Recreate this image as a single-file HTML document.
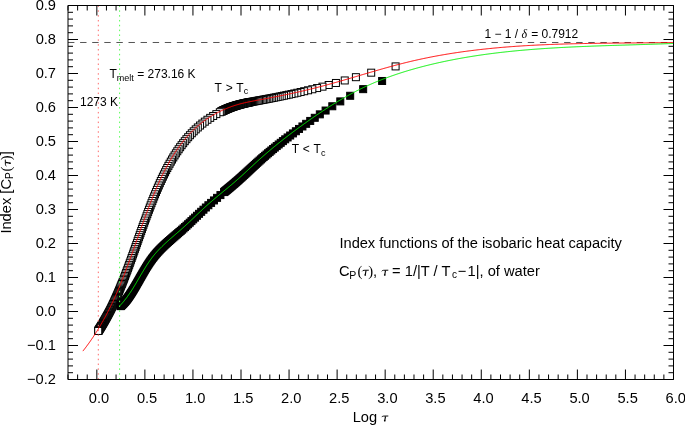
<!DOCTYPE html>
<html><head><meta charset="utf-8"><style>
html,body{margin:0;padding:0;background:#fff;}
svg{display:block;will-change:transform;}
</style></head><body>
<svg width="685" height="425" viewBox="0 0 685 425">
<defs><g id="tau"><path d="M0.5,-4.4 C0.8,-5.1 1.4,-5.4 2.3,-5.4 L7.0,-5.5" fill="none" stroke="#000" stroke-width="0.95"/><path d="M4.2,-5.2 L3.5,-1.0" fill="none" stroke="#000" stroke-width="1.15"/><circle cx="3.45" cy="-0.8" r="0.85" fill="#000"/></g></defs>
<rect width="685" height="425" fill="#fff"/>
<g fill="none" stroke-width="1">
<line x1="68" y1="42.49" x2="673.5" y2="42.49" stroke="#555" stroke-dasharray="6.4 5.7"/>
</g>
<g fill="#fff" stroke="#000" stroke-width="1"><rect x="392.09" y="62.91" width="7" height="7"/><rect x="367.70" y="69.18" width="7" height="7"/><rect x="352.41" y="73.68" width="7" height="7"/><rect x="341.25" y="76.95" width="7" height="7"/><rect x="332.44" y="79.47" width="7" height="7"/><rect x="325.18" y="81.49" width="7" height="7"/><rect x="318.99" y="83.15" width="7" height="7"/><rect x="313.61" y="84.55" width="7" height="7"/><rect x="308.84" y="85.75" width="7" height="7"/><rect x="304.56" y="86.79" width="7" height="7"/><rect x="300.67" y="87.71" width="7" height="7"/><rect x="297.12" y="88.53" width="7" height="7"/><rect x="293.85" y="89.27" width="7" height="7"/><rect x="290.82" y="89.95" width="7" height="7"/><rect x="287.99" y="90.56" width="7" height="7"/><rect x="285.34" y="91.13" width="7" height="7"/><rect x="282.85" y="91.65" width="7" height="7"/><rect x="280.50" y="92.14" width="7" height="7"/><rect x="278.27" y="92.60" width="7" height="7"/><rect x="276.16" y="93.02" width="7" height="7"/><rect x="274.15" y="93.43" width="7" height="7"/><rect x="272.23" y="93.81" width="7" height="7"/><rect x="270.39" y="94.17" width="7" height="7"/><rect x="268.64" y="94.51" width="7" height="7"/><rect x="266.95" y="94.84" width="7" height="7"/><rect x="265.33" y="95.15" width="7" height="7"/><rect x="263.77" y="95.44" width="7" height="7"/><rect x="262.27" y="95.73" width="7" height="7"/><rect x="260.81" y="96.00" width="7" height="7"/><rect x="259.41" y="96.26" width="7" height="7"/><rect x="258.05" y="96.51" width="7" height="7"/><rect x="256.74" y="96.75" width="7" height="7"/><rect x="255.47" y="96.99" width="7" height="7"/><rect x="254.23" y="97.21" width="7" height="7"/><rect x="253.03" y="97.43" width="7" height="7"/><rect x="251.86" y="97.65" width="7" height="7"/><rect x="250.73" y="97.86" width="7" height="7"/><rect x="249.62" y="98.06" width="7" height="7"/><rect x="248.54" y="98.27" width="7" height="7"/><rect x="247.49" y="98.47" width="7" height="7"/><rect x="246.47" y="98.68" width="7" height="7"/><rect x="245.97" y="98.78" width="7" height="7"/><rect x="245.47" y="98.88" width="7" height="7"/><rect x="244.98" y="98.98" width="7" height="7"/><rect x="244.49" y="99.08" width="7" height="7"/><rect x="244.01" y="99.18" width="7" height="7"/><rect x="243.54" y="99.28" width="7" height="7"/><rect x="243.07" y="99.38" width="7" height="7"/><rect x="242.61" y="99.49" width="7" height="7"/><rect x="242.15" y="99.59" width="7" height="7"/><rect x="241.70" y="99.69" width="7" height="7"/><rect x="241.25" y="99.79" width="7" height="7"/><rect x="240.80" y="99.89" width="7" height="7"/><rect x="240.36" y="99.99" width="7" height="7"/><rect x="239.93" y="100.10" width="7" height="7"/><rect x="239.50" y="100.20" width="7" height="7"/><rect x="239.07" y="100.30" width="7" height="7"/><rect x="238.65" y="100.41" width="7" height="7"/><rect x="238.23" y="100.51" width="7" height="7"/><rect x="237.82" y="100.62" width="7" height="7"/><rect x="237.41" y="100.72" width="7" height="7"/><rect x="237.01" y="100.83" width="7" height="7"/><rect x="236.60" y="100.93" width="7" height="7"/><rect x="236.21" y="101.04" width="7" height="7"/><rect x="235.81" y="101.14" width="7" height="7"/><rect x="235.42" y="101.25" width="7" height="7"/><rect x="235.04" y="101.36" width="7" height="7"/><rect x="234.65" y="101.47" width="7" height="7"/><rect x="234.28" y="101.58" width="7" height="7"/><rect x="233.90" y="101.68" width="7" height="7"/><rect x="233.53" y="101.79" width="7" height="7"/><rect x="233.16" y="101.90" width="7" height="7"/><rect x="232.79" y="102.01" width="7" height="7"/><rect x="232.43" y="102.13" width="7" height="7"/><rect x="232.07" y="102.24" width="7" height="7"/><rect x="231.71" y="102.35" width="7" height="7"/><rect x="231.36" y="102.46" width="7" height="7"/><rect x="231.01" y="102.57" width="7" height="7"/><rect x="230.66" y="102.68" width="7" height="7"/><rect x="230.31" y="102.80" width="7" height="7"/><rect x="229.97" y="102.91" width="7" height="7"/><rect x="229.63" y="103.02" width="7" height="7"/><rect x="229.30" y="103.14" width="7" height="7"/><rect x="228.96" y="103.25" width="7" height="7"/><rect x="228.63" y="103.37" width="7" height="7"/><rect x="228.30" y="103.48" width="7" height="7"/><rect x="227.98" y="103.60" width="7" height="7"/><rect x="227.65" y="103.71" width="7" height="7"/><rect x="227.33" y="103.83" width="7" height="7"/><rect x="227.01" y="103.94" width="7" height="7"/><rect x="226.70" y="104.06" width="7" height="7"/><rect x="226.39" y="104.18" width="7" height="7"/><rect x="226.08" y="104.30" width="7" height="7"/><rect x="225.77" y="104.42" width="7" height="7"/><rect x="225.47" y="104.54" width="7" height="7"/><rect x="225.17" y="104.66" width="7" height="7"/><rect x="224.87" y="104.79" width="7" height="7"/><rect x="224.58" y="104.91" width="7" height="7"/><rect x="224.28" y="105.03" width="7" height="7"/><rect x="223.99" y="105.15" width="7" height="7"/><rect x="223.70" y="105.28" width="7" height="7"/><rect x="223.42" y="105.40" width="7" height="7"/><rect x="223.13" y="105.52" width="7" height="7"/><rect x="222.85" y="105.64" width="7" height="7"/><rect x="222.57" y="105.77" width="7" height="7"/><rect x="222.29" y="105.89" width="7" height="7"/><rect x="222.01" y="106.01" width="7" height="7"/><rect x="221.73" y="106.14" width="7" height="7"/><rect x="221.46" y="106.26" width="7" height="7"/><rect x="221.19" y="106.38" width="7" height="7"/><rect x="220.92" y="106.51" width="7" height="7"/><rect x="220.65" y="106.63" width="7" height="7"/><rect x="220.38" y="106.76" width="7" height="7"/><rect x="220.11" y="106.88" width="7" height="7"/><rect x="219.85" y="107.00" width="7" height="7"/><rect x="219.59" y="107.13" width="7" height="7"/><rect x="219.33" y="107.25" width="7" height="7"/><rect x="219.07" y="107.37" width="7" height="7"/><rect x="218.81" y="107.50" width="7" height="7"/><rect x="218.56" y="107.62" width="7" height="7"/><rect x="218.30" y="107.75" width="7" height="7"/><rect x="218.05" y="107.87" width="7" height="7"/><rect x="217.80" y="107.99" width="7" height="7"/><rect x="216.33" y="108.74" width="7" height="7"/><rect x="212.86" y="110.61" width="7" height="7"/><rect x="209.67" y="112.48" width="7" height="7"/><rect x="206.70" y="114.36" width="7" height="7"/><rect x="203.93" y="116.25" width="7" height="7"/><rect x="201.32" y="118.16" width="7" height="7"/><rect x="198.86" y="120.09" width="7" height="7"/><rect x="196.54" y="122.02" width="7" height="7"/><rect x="194.33" y="123.94" width="7" height="7"/><rect x="192.22" y="125.87" width="7" height="7"/><rect x="190.21" y="127.81" width="7" height="7"/><rect x="188.29" y="129.76" width="7" height="7"/><rect x="186.44" y="131.73" width="7" height="7"/><rect x="184.65" y="133.70" width="7" height="7"/><rect x="182.93" y="135.68" width="7" height="7"/><rect x="181.27" y="137.68" width="7" height="7"/><rect x="179.67" y="139.68" width="7" height="7"/><rect x="178.12" y="141.69" width="7" height="7"/><rect x="176.62" y="143.71" width="7" height="7"/><rect x="175.17" y="145.74" width="7" height="7"/><rect x="173.77" y="147.78" width="7" height="7"/><rect x="172.40" y="149.83" width="7" height="7"/><rect x="171.08" y="151.89" width="7" height="7"/><rect x="169.79" y="153.95" width="7" height="7"/><rect x="168.53" y="156.04" width="7" height="7"/><rect x="167.30" y="158.13" width="7" height="7"/><rect x="166.09" y="160.24" width="7" height="7"/><rect x="164.92" y="162.36" width="7" height="7"/><rect x="163.77" y="164.49" width="7" height="7"/><rect x="162.64" y="166.64" width="7" height="7"/><rect x="161.54" y="168.80" width="7" height="7"/><rect x="160.45" y="170.96" width="7" height="7"/><rect x="159.39" y="173.14" width="7" height="7"/><rect x="158.35" y="175.33" width="7" height="7"/><rect x="157.33" y="177.52" width="7" height="7"/><rect x="156.32" y="179.72" width="7" height="7"/><rect x="155.34" y="181.93" width="7" height="7"/><rect x="154.37" y="184.15" width="7" height="7"/><rect x="153.41" y="186.36" width="7" height="7"/><rect x="152.47" y="188.58" width="7" height="7"/><rect x="151.55" y="190.80" width="7" height="7"/><rect x="150.64" y="193.02" width="7" height="7"/><rect x="149.75" y="195.24" width="7" height="7"/><rect x="148.87" y="197.46" width="7" height="7"/><rect x="148.00" y="199.67" width="7" height="7"/><rect x="147.14" y="201.87" width="7" height="7"/><rect x="146.30" y="204.07" width="7" height="7"/><rect x="145.46" y="206.25" width="7" height="7"/><rect x="144.64" y="208.44" width="7" height="7"/><rect x="143.83" y="210.61" width="7" height="7"/><rect x="143.03" y="212.77" width="7" height="7"/><rect x="142.24" y="214.92" width="7" height="7"/><rect x="141.46" y="217.06" width="7" height="7"/><rect x="140.69" y="219.19" width="7" height="7"/><rect x="139.93" y="221.30" width="7" height="7"/><rect x="139.17" y="223.40" width="7" height="7"/><rect x="138.43" y="225.49" width="7" height="7"/><rect x="137.70" y="227.56" width="7" height="7"/><rect x="136.97" y="229.61" width="7" height="7"/><rect x="136.25" y="231.65" width="7" height="7"/><rect x="135.54" y="233.66" width="7" height="7"/><rect x="134.83" y="235.66" width="7" height="7"/><rect x="134.14" y="237.64" width="7" height="7"/><rect x="133.45" y="239.60" width="7" height="7"/><rect x="132.77" y="241.54" width="7" height="7"/><rect x="132.09" y="243.45" width="7" height="7"/><rect x="131.42" y="245.35" width="7" height="7"/><rect x="130.76" y="247.22" width="7" height="7"/><rect x="130.10" y="249.07" width="7" height="7"/><rect x="129.45" y="250.90" width="7" height="7"/><rect x="128.81" y="252.71" width="7" height="7"/><rect x="128.17" y="254.49" width="7" height="7"/><rect x="127.53" y="256.25" width="7" height="7"/><rect x="126.90" y="257.99" width="7" height="7"/><rect x="126.28" y="259.70" width="7" height="7"/><rect x="125.66" y="261.39" width="7" height="7"/><rect x="125.04" y="263.06" width="7" height="7"/><rect x="124.43" y="264.70" width="7" height="7"/><rect x="123.83" y="266.32" width="7" height="7"/><rect x="123.23" y="267.91" width="7" height="7"/><rect x="122.64" y="269.46" width="7" height="7"/><rect x="122.07" y="270.97" width="7" height="7"/><rect x="121.50" y="272.44" width="7" height="7"/><rect x="120.95" y="273.87" width="7" height="7"/><rect x="120.40" y="275.26" width="7" height="7"/><rect x="119.87" y="276.62" width="7" height="7"/><rect x="119.34" y="277.95" width="7" height="7"/><rect x="118.83" y="279.24" width="7" height="7"/><rect x="118.32" y="280.50" width="7" height="7"/><rect x="117.82" y="281.73" width="7" height="7"/><rect x="117.33" y="282.92" width="7" height="7"/><rect x="116.85" y="284.10" width="7" height="7"/><rect x="116.38" y="285.25" width="7" height="7"/><rect x="115.91" y="286.38" width="7" height="7"/><rect x="115.45" y="287.48" width="7" height="7"/><rect x="115.00" y="288.55" width="7" height="7"/><rect x="114.56" y="289.60" width="7" height="7"/><rect x="114.12" y="290.62" width="7" height="7"/><rect x="113.69" y="291.62" width="7" height="7"/><rect x="113.27" y="292.60" width="7" height="7"/><rect x="112.85" y="293.55" width="7" height="7"/><rect x="112.44" y="294.49" width="7" height="7"/><rect x="112.03" y="295.40" width="7" height="7"/><rect x="111.63" y="296.30" width="7" height="7"/><rect x="111.24" y="297.17" width="7" height="7"/><rect x="110.85" y="298.03" width="7" height="7"/><rect x="110.47" y="298.87" width="7" height="7"/><rect x="110.09" y="299.69" width="7" height="7"/><rect x="109.72" y="300.49" width="7" height="7"/><rect x="109.36" y="301.28" width="7" height="7"/><rect x="109.00" y="302.05" width="7" height="7"/><rect x="108.64" y="302.81" width="7" height="7"/><rect x="108.29" y="303.55" width="7" height="7"/><rect x="107.94" y="304.27" width="7" height="7"/><rect x="107.60" y="304.99" width="7" height="7"/><rect x="107.26" y="305.68" width="7" height="7"/><rect x="106.90" y="306.37" width="7" height="7"/><rect x="106.55" y="307.04" width="7" height="7"/><rect x="106.21" y="307.70" width="7" height="7"/><rect x="105.86" y="308.35" width="7" height="7"/><rect x="105.53" y="308.98" width="7" height="7"/><rect x="105.19" y="309.61" width="7" height="7"/><rect x="104.86" y="310.22" width="7" height="7"/><rect x="104.54" y="310.82" width="7" height="7"/><rect x="104.22" y="311.41" width="7" height="7"/><rect x="103.90" y="311.99" width="7" height="7"/><rect x="103.58" y="312.56" width="7" height="7"/><rect x="103.28" y="313.12" width="7" height="7"/><rect x="102.97" y="313.67" width="7" height="7"/><rect x="102.67" y="314.21" width="7" height="7"/><rect x="102.37" y="314.74" width="7" height="7"/><rect x="102.07" y="315.27" width="7" height="7"/><rect x="101.78" y="315.78" width="7" height="7"/><rect x="101.49" y="316.29" width="7" height="7"/><rect x="101.21" y="316.78" width="7" height="7"/><rect x="100.92" y="317.27" width="7" height="7"/><rect x="100.65" y="317.76" width="7" height="7"/><rect x="100.37" y="318.23" width="7" height="7"/><rect x="100.10" y="318.70" width="7" height="7"/><rect x="99.83" y="319.15" width="7" height="7"/><rect x="99.56" y="319.61" width="7" height="7"/><rect x="99.30" y="320.05" width="7" height="7"/><rect x="99.04" y="320.49" width="7" height="7"/><rect x="98.78" y="320.92" width="7" height="7"/><rect x="98.53" y="321.35" width="7" height="7"/><rect x="98.27" y="321.76" width="7" height="7"/><rect x="98.02" y="322.18" width="7" height="7"/><rect x="97.78" y="322.58" width="7" height="7"/><rect x="97.53" y="322.98" width="7" height="7"/><rect x="97.29" y="323.38" width="7" height="7"/><rect x="97.05" y="323.76" width="7" height="7"/><rect x="96.82" y="324.15" width="7" height="7"/><rect x="96.58" y="324.53" width="7" height="7"/><rect x="96.35" y="324.90" width="7" height="7"/><rect x="96.12" y="325.26" width="7" height="7"/><rect x="95.89" y="325.63" width="7" height="7"/><rect x="95.67" y="325.98" width="7" height="7"/><rect x="95.45" y="326.33" width="7" height="7"/><rect x="95.23" y="326.68" width="7" height="7"/><rect x="95.01" y="327.02" width="7" height="7"/><rect x="94.79" y="327.36" width="7" height="7"/><rect x="94.73" y="327.45" width="7" height="7"/></g>
<g fill="#000" stroke="#000" stroke-width="1"><rect x="117.07" y="302.66" width="7" height="7"/><rect x="117.26" y="302.47" width="7" height="7"/><rect x="117.60" y="302.15" width="7" height="7"/><rect x="117.94" y="301.82" width="7" height="7"/><rect x="118.28" y="301.48" width="7" height="7"/><rect x="118.62" y="301.14" width="7" height="7"/><rect x="118.97" y="300.79" width="7" height="7"/><rect x="119.32" y="300.43" width="7" height="7"/><rect x="119.67" y="300.07" width="7" height="7"/><rect x="120.03" y="299.69" width="7" height="7"/><rect x="120.38" y="299.31" width="7" height="7"/><rect x="120.75" y="298.92" width="7" height="7"/><rect x="121.11" y="298.52" width="7" height="7"/><rect x="121.48" y="298.12" width="7" height="7"/><rect x="121.85" y="297.70" width="7" height="7"/><rect x="122.22" y="297.27" width="7" height="7"/><rect x="122.59" y="296.84" width="7" height="7"/><rect x="122.95" y="296.40" width="7" height="7"/><rect x="123.29" y="295.94" width="7" height="7"/><rect x="123.64" y="295.48" width="7" height="7"/><rect x="123.99" y="295.01" width="7" height="7"/><rect x="124.34" y="294.52" width="7" height="7"/><rect x="124.70" y="294.03" width="7" height="7"/><rect x="125.06" y="293.52" width="7" height="7"/><rect x="125.42" y="293.00" width="7" height="7"/><rect x="125.78" y="292.48" width="7" height="7"/><rect x="126.15" y="291.94" width="7" height="7"/><rect x="126.53" y="291.38" width="7" height="7"/><rect x="126.90" y="290.82" width="7" height="7"/><rect x="127.28" y="290.24" width="7" height="7"/><rect x="127.67" y="289.66" width="7" height="7"/><rect x="128.05" y="289.06" width="7" height="7"/><rect x="128.45" y="288.44" width="7" height="7"/><rect x="128.84" y="287.82" width="7" height="7"/><rect x="129.24" y="287.18" width="7" height="7"/><rect x="129.64" y="286.53" width="7" height="7"/><rect x="130.05" y="285.86" width="7" height="7"/><rect x="130.46" y="285.18" width="7" height="7"/><rect x="130.88" y="284.49" width="7" height="7"/><rect x="131.30" y="283.78" width="7" height="7"/><rect x="131.72" y="283.07" width="7" height="7"/><rect x="132.15" y="282.33" width="7" height="7"/><rect x="132.58" y="281.59" width="7" height="7"/><rect x="133.03" y="280.83" width="7" height="7"/><rect x="133.47" y="280.06" width="7" height="7"/><rect x="133.92" y="279.27" width="7" height="7"/><rect x="134.38" y="278.48" width="7" height="7"/><rect x="134.84" y="277.67" width="7" height="7"/><rect x="135.31" y="276.85" width="7" height="7"/><rect x="135.78" y="276.02" width="7" height="7"/><rect x="136.26" y="275.17" width="7" height="7"/><rect x="136.74" y="274.32" width="7" height="7"/><rect x="137.23" y="273.46" width="7" height="7"/><rect x="137.73" y="272.59" width="7" height="7"/><rect x="138.23" y="271.71" width="7" height="7"/><rect x="138.74" y="270.82" width="7" height="7"/><rect x="139.26" y="269.93" width="7" height="7"/><rect x="139.78" y="269.03" width="7" height="7"/><rect x="140.31" y="268.13" width="7" height="7"/><rect x="140.84" y="267.22" width="7" height="7"/><rect x="141.38" y="266.30" width="7" height="7"/><rect x="141.93" y="265.39" width="7" height="7"/><rect x="142.49" y="264.47" width="7" height="7"/><rect x="143.06" y="263.55" width="7" height="7"/><rect x="143.63" y="262.64" width="7" height="7"/><rect x="144.21" y="261.72" width="7" height="7"/><rect x="144.80" y="260.80" width="7" height="7"/><rect x="145.40" y="259.89" width="7" height="7"/><rect x="146.01" y="258.98" width="7" height="7"/><rect x="146.63" y="258.08" width="7" height="7"/><rect x="147.25" y="257.18" width="7" height="7"/><rect x="147.89" y="256.28" width="7" height="7"/><rect x="148.54" y="255.39" width="7" height="7"/><rect x="149.19" y="254.51" width="7" height="7"/><rect x="149.86" y="253.64" width="7" height="7"/><rect x="150.54" y="252.77" width="7" height="7"/><rect x="151.23" y="251.92" width="7" height="7"/><rect x="151.94" y="251.07" width="7" height="7"/><rect x="152.65" y="250.23" width="7" height="7"/><rect x="153.38" y="249.39" width="7" height="7"/><rect x="154.12" y="248.56" width="7" height="7"/><rect x="154.88" y="247.73" width="7" height="7"/><rect x="155.65" y="246.90" width="7" height="7"/><rect x="156.43" y="246.08" width="7" height="7"/><rect x="157.26" y="245.24" width="7" height="7"/><rect x="158.10" y="244.40" width="7" height="7"/><rect x="158.96" y="243.56" width="7" height="7"/><rect x="159.84" y="242.72" width="7" height="7"/><rect x="160.74" y="241.87" width="7" height="7"/><rect x="161.66" y="241.01" width="7" height="7"/><rect x="162.60" y="240.15" width="7" height="7"/><rect x="163.56" y="239.28" width="7" height="7"/><rect x="164.54" y="238.40" width="7" height="7"/><rect x="165.55" y="237.50" width="7" height="7"/><rect x="166.58" y="236.59" width="7" height="7"/><rect x="167.64" y="235.67" width="7" height="7"/><rect x="168.72" y="234.73" width="7" height="7"/><rect x="169.84" y="233.76" width="7" height="7"/><rect x="170.98" y="232.78" width="7" height="7"/><rect x="172.16" y="231.77" width="7" height="7"/><rect x="173.37" y="230.72" width="7" height="7"/><rect x="174.62" y="229.65" width="7" height="7"/><rect x="175.90" y="228.53" width="7" height="7"/><rect x="177.23" y="227.38" width="7" height="7"/><rect x="178.60" y="226.17" width="7" height="7"/><rect x="180.02" y="224.91" width="7" height="7"/><rect x="181.48" y="223.58" width="7" height="7"/><rect x="183.00" y="222.19" width="7" height="7"/><rect x="184.58" y="220.73" width="7" height="7"/><rect x="186.22" y="219.19" width="7" height="7"/><rect x="187.93" y="217.58" width="7" height="7"/><rect x="189.71" y="215.89" width="7" height="7"/><rect x="191.57" y="214.12" width="7" height="7"/><rect x="193.51" y="212.26" width="7" height="7"/><rect x="195.55" y="210.32" width="7" height="7"/><rect x="197.70" y="208.30" width="7" height="7"/><rect x="199.96" y="206.20" width="7" height="7"/><rect x="202.35" y="204.01" width="7" height="7"/><rect x="204.88" y="201.75" width="7" height="7"/><rect x="207.59" y="199.40" width="7" height="7"/><rect x="210.47" y="196.94" width="7" height="7"/><rect x="213.57" y="194.35" width="7" height="7"/><rect x="216.93" y="191.58" width="7" height="7"/><rect x="220.57" y="188.58" width="7" height="7"/><rect x="221.12" y="188.13" width="7" height="7"/><rect x="221.67" y="187.68" width="7" height="7"/><rect x="222.23" y="187.21" width="7" height="7"/><rect x="222.80" y="186.74" width="7" height="7"/><rect x="223.38" y="186.27" width="7" height="7"/><rect x="223.97" y="185.78" width="7" height="7"/><rect x="224.56" y="185.29" width="7" height="7"/><rect x="225.16" y="184.79" width="7" height="7"/><rect x="225.78" y="184.28" width="7" height="7"/><rect x="226.40" y="183.77" width="7" height="7"/><rect x="227.03" y="183.24" width="7" height="7"/><rect x="227.67" y="182.70" width="7" height="7"/><rect x="228.32" y="182.16" width="7" height="7"/><rect x="228.98" y="181.60" width="7" height="7"/><rect x="229.65" y="181.03" width="7" height="7"/><rect x="230.33" y="180.45" width="7" height="7"/><rect x="231.02" y="179.86" width="7" height="7"/><rect x="231.73" y="179.25" width="7" height="7"/><rect x="232.44" y="178.63" width="7" height="7"/><rect x="233.17" y="177.99" width="7" height="7"/><rect x="233.91" y="177.34" width="7" height="7"/><rect x="234.67" y="176.68" width="7" height="7"/><rect x="235.44" y="175.99" width="7" height="7"/><rect x="236.22" y="175.29" width="7" height="7"/><rect x="237.02" y="174.57" width="7" height="7"/><rect x="237.84" y="173.84" width="7" height="7"/><rect x="238.67" y="173.09" width="7" height="7"/><rect x="239.52" y="172.31" width="7" height="7"/><rect x="240.38" y="171.52" width="7" height="7"/><rect x="241.26" y="170.71" width="7" height="7"/><rect x="242.17" y="169.88" width="7" height="7"/><rect x="243.09" y="169.03" width="7" height="7"/><rect x="244.03" y="168.15" width="7" height="7"/><rect x="245.00" y="167.26" width="7" height="7"/><rect x="245.99" y="166.34" width="7" height="7"/><rect x="247.00" y="165.40" width="7" height="7"/><rect x="248.04" y="164.44" width="7" height="7"/><rect x="249.10" y="163.46" width="7" height="7"/><rect x="250.19" y="162.45" width="7" height="7"/><rect x="251.31" y="161.42" width="7" height="7"/><rect x="252.46" y="160.37" width="7" height="7"/><rect x="253.65" y="159.29" width="7" height="7"/><rect x="254.87" y="158.19" width="7" height="7"/><rect x="256.12" y="157.07" width="7" height="7"/><rect x="257.42" y="155.91" width="7" height="7"/><rect x="258.75" y="154.74" width="7" height="7"/><rect x="260.14" y="153.53" width="7" height="7"/><rect x="261.56" y="152.29" width="7" height="7"/><rect x="263.04" y="151.02" width="7" height="7"/><rect x="264.57" y="149.71" width="7" height="7"/><rect x="266.16" y="148.37" width="7" height="7"/><rect x="267.82" y="146.98" width="7" height="7"/><rect x="269.54" y="145.55" width="7" height="7"/><rect x="271.34" y="144.08" width="7" height="7"/><rect x="273.21" y="142.55" width="7" height="7"/><rect x="275.18" y="140.97" width="7" height="7"/><rect x="277.24" y="139.32" width="7" height="7"/><rect x="279.41" y="137.61" width="7" height="7"/><rect x="281.70" y="135.82" width="7" height="7"/><rect x="284.12" y="133.96" width="7" height="7"/><rect x="286.69" y="132.00" width="7" height="7"/><rect x="289.43" y="129.93" width="7" height="7"/><rect x="292.37" y="127.75" width="7" height="7"/><rect x="295.52" y="125.44" width="7" height="7"/><rect x="298.93" y="122.96" width="7" height="7"/><rect x="302.65" y="120.31" width="7" height="7"/><rect x="306.73" y="117.43" width="7" height="7"/><rect x="311.25" y="114.30" width="7" height="7"/><rect x="316.32" y="110.85" width="7" height="7"/><rect x="322.10" y="107.04" width="7" height="7"/><rect x="328.80" y="102.76" width="7" height="7"/><rect x="336.79" y="97.90" width="7" height="7"/><rect x="346.68" y="92.28" width="7" height="7"/><rect x="359.67" y="85.65" width="7" height="7"/><rect x="378.62" y="77.48" width="7" height="7"/></g>
<g fill="none" stroke-width="1">
<line x1="98.3" y1="5.45" x2="98.3" y2="379" stroke="#ff6a6a" stroke-dasharray="1.5 3.339"/>
<line x1="119.6" y1="5.45" x2="119.6" y2="379" stroke="#55ff55" stroke-dasharray="1.5 3.339"/>
</g>
<polyline fill="none" stroke="#ff0000" stroke-width="1" points="82.89,351.10 83.42,350.43 83.95,349.76 84.47,349.09 84.99,348.41 85.50,347.74 86.01,347.06 86.52,346.39 87.03,345.71 87.53,345.03 88.03,344.34 88.52,343.66 89.02,342.98 89.50,342.29 89.99,341.61 90.47,340.92 90.95,340.23 91.43,339.54 91.90,338.85 92.37,338.16 92.84,337.46 93.31,336.77 93.77,336.07 94.23,335.37 94.68,334.68 95.13,333.98 95.58,333.28 96.03,332.58 96.47,331.87 96.92,331.17 97.36,330.47 97.79,329.76 98.22,329.05 98.65,328.34 99.08,327.64 99.51,326.93 99.93,326.22 100.35,325.50 100.77,324.79 101.18,324.08 101.60,323.36 102.00,322.64 102.41,321.93 102.82,321.21 103.22,320.49 103.62,319.77 104.02,319.05 104.41,318.33 104.81,317.61 105.20,316.88 105.58,316.16 105.97,315.43 106.35,314.70 106.73,313.98 107.11,313.25 107.49,312.52 107.87,311.79 108.24,311.06 108.61,310.33 108.98,309.59 109.34,308.86 109.71,308.13 110.07,307.39 110.43,306.65 110.79,305.92 111.15,305.18 111.50,304.44 111.85,303.70 112.20,302.96 112.55,302.22 112.90,301.48 113.25,300.74 113.59,299.99 113.93,299.25 114.27,298.50 114.61,297.76 114.95,297.01 115.28,296.27 115.61,295.52 115.95,294.77 116.28,294.02 116.60,293.27 116.93,292.52 117.26,291.77 117.58,291.02 117.90,290.26 118.22,289.51 118.54,288.76 118.86,288.00 119.18,287.25 119.49,286.49 119.81,285.73 120.12,284.98 120.43,284.22 120.74,283.46 121.05,282.70 121.36,281.94 121.66,281.18 121.97,280.42 122.27,279.66 122.57,278.90 122.88,278.14 123.18,277.37 123.48,276.61 123.77,275.85 124.07,275.08 124.37,274.32 124.66,273.55 124.96,272.79 125.25,272.02 125.54,271.25 125.84,270.49 126.13,269.72 126.42,268.95 126.71,268.18 126.99,267.41 127.28,266.64 127.57,265.87 127.86,265.10 128.14,264.33 128.43,263.56 128.71,262.79 128.99,262.02 129.28,261.24 129.56,260.47 129.84,259.70 130.12,258.92 130.40,258.15 130.68,257.38 130.96,256.60 131.24,255.83 131.52,255.05 131.80,254.28 132.08,253.50 132.36,252.72 132.64,251.95 132.91,251.17 133.19,250.39 133.47,249.62 133.74,248.84 134.02,248.06 134.30,247.28 134.57,246.50 134.85,245.73 135.12,244.95 135.40,244.17 135.67,243.39 135.95,242.61 136.23,241.83 136.50,241.05 136.78,240.27 137.05,239.49 137.33,238.71 137.60,237.93 137.88,237.15 138.16,236.37 138.43,235.59 138.71,234.81 138.98,234.02 139.26,233.24 139.54,232.46 139.82,231.68 140.09,230.90 140.37,230.12 140.65,229.34 140.93,228.55 141.21,227.77 141.49,226.99 141.77,226.21 142.05,225.43 142.33,224.64 142.61,223.86 142.89,223.08 143.18,222.30 143.46,221.52 143.74,220.73 144.03,219.95 144.31,219.17 144.60,218.39 144.88,217.61 145.17,216.82 145.46,216.04 145.75,215.26 146.04,214.48 146.33,213.70 146.62,212.91 146.91,212.13 147.20,211.35 147.50,210.57 147.79,209.79 148.09,209.01 148.39,208.23 148.68,207.45 148.98,206.67 149.28,205.89 149.58,205.10 149.88,204.32 150.19,203.54 150.49,202.76 150.80,201.98 151.10,201.21 151.41,200.43 151.72,199.65 152.03,198.87 152.34,198.09 152.66,197.31 152.97,196.53 153.29,195.76 153.60,194.98 153.92,194.20 154.24,193.43 154.56,192.65 154.89,191.88 155.21,191.10 155.54,190.33 155.86,189.55 156.19,188.78 156.52,188.01 156.86,187.24 157.19,186.47 157.53,185.70 157.87,184.93 158.21,184.17 158.55,183.40 158.89,182.63 159.24,181.87 159.58,181.11 159.93,180.35 160.29,179.59 160.64,178.83 161.00,178.07 161.35,177.31 161.71,176.56 162.08,175.80 162.44,175.05 162.81,174.30 163.17,173.55 163.55,172.80 163.92,172.06 164.29,171.31 164.67,170.57 165.05,169.83 165.44,169.09 165.82,168.35 166.21,167.62 166.60,166.89 166.99,166.15 167.39,165.42 167.79,164.70 168.19,163.97 168.59,163.25 169.00,162.53 169.41,161.81 169.82,161.09 170.23,160.37 170.65,159.66 171.07,158.95 171.49,158.24 171.92,157.54 172.35,156.84 172.78,156.14 173.21,155.44 173.65,154.74 174.09,154.05 174.54,153.36 174.98,152.67 175.43,151.99 175.89,151.31 176.34,150.63 176.80,149.95 177.27,149.28 177.73,148.61 178.20,147.94 178.67,147.27 179.15,146.61 179.63,145.95 180.11,145.30 180.60,144.65 181.09,144.00 181.58,143.35 182.08,142.71 182.58,142.07 183.09,141.43 183.60,140.80 184.11,140.17 184.62,139.55 185.14,138.93 185.67,138.31 186.19,137.69 186.72,137.08 187.26,136.47 187.80,135.87 188.34,135.27 188.89,134.67 189.44,134.08 189.99,133.49 190.55,132.91 191.11,132.33 191.68,131.75 192.25,131.18 192.82,130.61 193.40,130.05 193.99,129.49 194.57,128.93 195.17,128.38 195.76,127.83 196.36,127.29 196.97,126.75 197.58,126.21 198.19,125.68 198.81,125.16 199.43,124.64 200.06,124.12 200.69,123.61 201.33,123.10 201.97,122.60 202.61,122.10 203.27,121.61 203.92,121.12 204.58,120.63 205.24,120.16 205.91,119.68 206.59,119.21 207.27,118.75 207.95,118.29 208.64,117.84 209.33,117.39 210.03,116.94 210.73,116.50 211.44,116.07 212.15,115.64 212.87,115.22 213.59,114.80 214.32,114.39 215.04,113.98 215.78,113.58 216.51,113.19 217.25,112.80 218.00,112.41 218.74,112.03 219.49,111.66 220.25,111.29 221.00,110.93 221.76,110.57 222.53,110.22 223.29,109.87 224.06,109.53 224.83,109.20 225.61,108.87 226.38,108.55 227.16,108.23 227.94,107.92 228.72,107.61 229.51,107.31 230.30,107.02 231.08,106.73 231.87,106.45 232.67,106.18 233.46,105.91 234.25,105.65 235.05,105.39 235.85,105.14 236.64,104.90 237.44,104.66 238.24,104.43 239.04,104.21 239.84,103.99 240.65,103.77 241.45,103.57 242.25,103.36 243.06,103.17 243.86,102.98 244.67,102.79 245.47,102.60 246.28,102.42 247.09,102.25 247.89,102.08 248.70,101.91 249.51,101.74 250.32,101.58 251.12,101.42 251.93,101.26 252.74,101.10 253.55,100.95 254.36,100.80 255.17,100.65 255.98,100.49 256.79,100.34 257.60,100.20 258.41,100.05 259.22,99.90 260.03,99.75 260.84,99.60 261.65,99.45 262.46,99.30 263.26,99.15 264.07,98.99 264.88,98.84 265.69,98.69 266.50,98.54 267.31,98.38 268.12,98.23 268.93,98.07 269.74,97.92 270.54,97.76 271.35,97.60 272.16,97.45 272.97,97.29 273.78,97.13 274.59,96.97 275.39,96.81 276.20,96.65 277.01,96.49 277.82,96.33 278.62,96.16 279.43,96.00 280.24,95.84 281.05,95.67 281.85,95.51 282.66,95.34 283.47,95.17 284.27,95.01 285.08,94.84 285.89,94.67 286.69,94.50 287.50,94.33 288.30,94.16 289.11,93.98 289.92,93.81 290.72,93.64 291.53,93.46 292.33,93.29 293.14,93.11 293.94,92.94 294.75,92.76 295.55,92.58 296.36,92.40 297.16,92.22 297.97,92.04 298.77,91.86 299.57,91.67 300.38,91.49 301.18,91.31 301.98,91.12 302.79,90.94 303.59,90.75 304.39,90.56 305.20,90.37 306.00,90.18 306.80,89.99 307.60,89.80 308.41,89.61 309.21,89.41 310.01,89.22 310.81,89.02 311.61,88.83 312.42,88.63 313.22,88.43 314.02,88.23 314.82,88.03 315.62,87.83 316.42,87.62 317.22,87.42 318.02,87.22 318.82,87.01 319.62,86.80 320.42,86.60 321.22,86.39 322.02,86.18 322.82,85.97 323.62,85.75 324.41,85.54 325.21,85.33 326.01,85.11 326.81,84.90 327.61,84.68 328.41,84.46 329.20,84.24 330.00,84.03 330.80,83.81 331.60,83.58 332.39,83.36 333.19,83.14 333.99,82.92 334.78,82.69 335.58,82.47 336.38,82.25 337.17,82.02 337.97,81.79 338.77,81.57 339.56,81.34 340.36,81.11 341.15,80.88 341.95,80.65 342.75,80.43 343.54,80.20 344.34,79.97 345.13,79.73 345.93,79.50 346.72,79.27 347.52,79.04 348.31,78.81 349.11,78.58 349.90,78.34 350.70,78.11 351.49,77.88 352.29,77.64 353.08,77.41 353.88,77.18 354.67,76.94 355.47,76.71 356.26,76.48 357.06,76.24 357.85,76.01 358.65,75.77 359.44,75.54 360.24,75.30 361.03,75.07 361.83,74.83 362.62,74.60 363.42,74.37 364.21,74.13 365.01,73.90 365.80,73.66 366.60,73.43 367.39,73.20 368.19,72.96 368.98,72.73 369.78,72.50 370.57,72.27 371.37,72.03 372.16,71.80 372.96,71.57 373.76,71.34 374.55,71.11 375.35,70.88 376.14,70.65 376.94,70.42 377.73,70.19 378.53,69.96 379.33,69.73 380.12,69.51 380.92,69.28 381.71,69.05 382.51,68.83 383.31,68.60 384.10,68.38 384.90,68.15 385.70,67.93 386.50,67.71 387.29,67.48 388.09,67.26 388.89,67.04 389.69,66.82 390.48,66.61 391.28,66.39 392.08,66.17 392.88,65.95 393.68,65.74 394.47,65.52 395.27,65.31 396.07,65.10 396.87,64.89 397.67,64.68 398.47,64.47 399.27,64.26 400.07,64.05 400.87,63.85 401.67,63.64 402.47,63.44 403.27,63.23 404.07,63.03 404.87,62.83 405.68,62.63 406.48,62.43 407.28,62.24 408.08,62.04 408.88,61.85 409.69,61.66 410.49,61.46 411.29,61.27 412.09,61.09 412.90,60.90 413.70,60.71 414.51,60.53 415.31,60.34 416.12,60.16 416.92,59.98 417.72,59.80 418.53,59.62 419.34,59.45 420.14,59.27 420.95,59.10 421.75,58.92 422.56,58.75 423.37,58.58 424.17,58.41 424.98,58.24 425.79,58.08 426.60,57.91 427.40,57.75 428.21,57.59 429.02,57.42 429.83,57.26 430.64,57.10 431.44,56.95 432.25,56.79 433.06,56.63 433.87,56.48 434.68,56.33 435.49,56.18 436.30,56.03 437.11,55.88 437.92,55.73 438.73,55.58 439.54,55.43 440.36,55.29 441.17,55.15 441.98,55.00 442.79,54.86 443.60,54.72 444.41,54.58 445.23,54.45 446.04,54.31 446.85,54.17 447.67,54.04 448.48,53.91 449.29,53.77 450.11,53.64 450.92,53.51 451.73,53.38 452.55,53.26 453.36,53.13 454.18,53.01 454.99,52.88 455.80,52.76 456.62,52.64 457.44,52.51 458.25,52.39 459.07,52.28 459.88,52.16 460.70,52.04 461.51,51.92 462.33,51.81 463.15,51.70 463.96,51.58 464.78,51.47 465.60,51.36 466.41,51.25 467.23,51.14 468.05,51.03 468.86,50.93 469.68,50.82 470.50,50.72 471.32,50.61 472.14,50.51 472.95,50.41 473.77,50.31 474.59,50.21 475.41,50.11 476.23,50.01 477.05,49.91 477.87,49.82 478.69,49.72 479.51,49.63 480.33,49.54 481.15,49.44 481.97,49.35 482.79,49.26 483.61,49.17 484.43,49.08 485.25,49.00 486.07,48.91 486.89,48.82 487.71,48.74 488.53,48.65 489.35,48.57 490.17,48.49 490.99,48.41 491.82,48.33 492.64,48.25 493.46,48.17 494.28,48.09 495.10,48.01 495.92,47.93 496.75,47.86 497.57,47.78 498.39,47.71 499.21,47.64 500.04,47.56 500.86,47.49 501.68,47.42 502.51,47.35 503.33,47.28 504.15,47.21 504.98,47.15 505.80,47.08 506.62,47.01 507.45,46.95 508.27,46.88 509.09,46.82 509.92,46.76 510.74,46.69 511.57,46.63 512.39,46.57 513.21,46.51 514.04,46.45 514.86,46.39 515.69,46.34 516.51,46.28 517.34,46.22 518.16,46.17 518.99,46.11 519.81,46.06 520.64,46.00 521.46,45.95 522.29,45.90 523.11,45.85 523.94,45.79 524.76,45.74 525.59,45.69 526.42,45.65 527.24,45.60 528.07,45.55 528.89,45.50 529.72,45.46 530.55,45.41 531.37,45.36 532.20,45.32 533.02,45.28 533.85,45.23 534.68,45.19 535.50,45.15 536.33,45.11 537.16,45.06 537.98,45.02 538.81,44.98 539.64,44.94 540.46,44.91 541.29,44.87 542.12,44.83 542.94,44.79 543.77,44.76 544.60,44.72 545.42,44.68 546.25,44.65 547.08,44.61 547.91,44.58 548.73,44.55 549.56,44.51 550.39,44.48 551.22,44.45 552.04,44.42 552.87,44.39 553.70,44.36 554.53,44.33 555.35,44.30 556.18,44.27 557.01,44.24 557.84,44.21 558.66,44.18 559.49,44.16 560.32,44.13 561.15,44.10 561.97,44.08 562.80,44.05 563.63,44.03 564.46,44.00 565.29,43.98 566.11,43.96 566.94,43.93 567.77,43.91 568.60,43.89 569.42,43.86 570.25,43.84 571.08,43.82 571.91,43.80 572.74,43.78 573.56,43.76 574.39,43.74 575.22,43.72 576.05,43.70 576.88,43.68 577.70,43.66 578.53,43.65 579.36,43.63 580.19,43.61 581.02,43.59 581.84,43.58 582.67,43.56 583.50,43.54 584.33,43.53 585.16,43.51 585.98,43.50 586.81,43.48 587.64,43.47 588.47,43.45 589.29,43.44 590.12,43.42 590.95,43.41 591.78,43.40 592.61,43.38 593.43,43.37 594.26,43.36 595.09,43.34 595.92,43.33 596.74,43.32 597.57,43.31 598.40,43.30 599.23,43.29 600.05,43.27 600.88,43.26 601.71,43.25 602.54,43.24 603.36,43.23 604.19,43.22 605.02,43.21 605.84,43.20 606.67,43.19 607.50,43.18 608.33,43.17 609.15,43.16 609.98,43.15 610.81,43.14 611.63,43.14 612.46,43.13 613.29,43.12 614.11,43.11 614.94,43.10 615.77,43.09 616.59,43.09 617.42,43.08 618.25,43.07 619.07,43.06 619.90,43.05 620.73,43.05 621.55,43.04 622.38,43.03 623.20,43.02 624.03,43.02 624.86,43.01 625.68,43.00 626.51,42.99 627.33,42.99 628.16,42.98 628.98,42.97 629.81,42.97 630.63,42.96 631.46,42.95 632.28,42.94 633.11,42.94 633.93,42.93 634.76,42.92 635.58,42.92 636.41,42.91 637.23,42.90 638.06,42.89 638.88,42.89 639.71,42.88 640.53,42.87 641.36,42.87 642.18,42.86 643.00,42.85 643.83,42.84 644.65,42.84 645.48,42.83 646.30,42.82 647.12,42.81 647.95,42.81 648.77,42.80 649.59,42.79 650.41,42.78 651.24,42.77 652.06,42.77 652.88,42.76 653.71,42.75 654.53,42.74 655.35,42.73 656.17,42.72 657.00,42.71 657.82,42.70 658.64,42.69 659.46,42.68 660.28,42.68 661.10,42.67 661.93,42.66 662.75,42.65 663.57,42.63 664.39,42.62 665.21,42.61 666.03,42.60 666.85,42.59 667.67,42.58 668.49,42.57 669.31,42.56 670.13,42.55 670.95,42.53 671.77,42.52 672.59,42.51 673.41,42.50"/>
<polyline fill="none" stroke="#00f200" stroke-width="1" points="119.50,306.08 120.00,305.56 120.49,305.04 120.98,304.51 121.47,303.98 121.95,303.45 122.42,302.91 122.89,302.36 123.36,301.82 123.82,301.27 124.27,300.71 124.72,300.15 125.17,299.59 125.61,299.03 126.04,298.46 126.48,297.89 126.91,297.31 127.33,296.73 127.75,296.15 128.17,295.57 128.58,294.98 128.99,294.39 129.40,293.80 129.80,293.20 130.20,292.60 130.60,292.01 130.99,291.40 131.39,290.80 131.78,290.19 132.16,289.59 132.55,288.98 132.93,288.36 133.31,287.75 133.69,287.14 134.06,286.52 134.44,285.90 134.81,285.29 135.18,284.67 135.55,284.05 135.92,283.43 136.29,282.80 136.66,282.18 137.02,281.56 137.39,280.93 137.75,280.31 138.12,279.68 138.48,279.06 138.84,278.43 139.21,277.81 139.57,277.18 139.93,276.56 140.30,275.93 140.66,275.31 141.03,274.69 141.39,274.06 141.76,273.44 142.12,272.82 142.49,272.20 142.86,271.58 143.23,270.96 143.60,270.34 143.97,269.73 144.35,269.11 144.72,268.50 145.10,267.89 145.48,267.28 145.86,266.67 146.25,266.06 146.63,265.46 147.02,264.86 147.41,264.26 147.81,263.66 148.20,263.06 148.60,262.47 149.01,261.88 149.41,261.29 149.82,260.71 150.23,260.13 150.65,259.55 151.07,258.97 151.49,258.40 151.92,257.83 152.35,257.26 152.79,256.70 153.23,256.14 153.67,255.59 154.12,255.04 154.57,254.49 155.03,253.94 155.49,253.40 155.96,252.87 156.43,252.33 156.90,251.80 157.38,251.28 157.86,250.75 158.35,250.23 158.84,249.71 159.33,249.20 159.83,248.69 160.32,248.18 160.83,247.67 161.33,247.17 161.84,246.67 162.35,246.17 162.87,245.67 163.38,245.17 163.90,244.68 164.42,244.19 164.95,243.70 165.47,243.21 166.00,242.73 166.53,242.24 167.06,241.76 167.59,241.28 168.13,240.80 168.67,240.32 169.20,239.84 169.74,239.36 170.28,238.89 170.82,238.41 171.37,237.94 171.91,237.46 172.45,236.99 173.00,236.52 173.55,236.05 174.09,235.57 174.64,235.10 175.18,234.63 175.73,234.16 176.28,233.69 176.82,233.22 177.37,232.74 177.92,232.27 178.46,231.80 179.01,231.32 179.55,230.85 180.10,230.38 180.64,229.90 181.18,229.42 181.72,228.95 182.26,228.47 182.80,227.99 183.34,227.50 183.87,227.02 184.41,226.54 184.94,226.05 185.47,225.57 186.00,225.08 186.53,224.59 187.06,224.10 187.59,223.61 188.11,223.12 188.64,222.63 189.16,222.13 189.69,221.64 190.21,221.15 190.73,220.65 191.26,220.15 191.78,219.66 192.30,219.16 192.82,218.67 193.34,218.17 193.86,217.67 194.38,217.18 194.90,216.68 195.42,216.18 195.93,215.69 196.45,215.19 196.97,214.69 197.49,214.20 198.01,213.70 198.53,213.21 199.05,212.71 199.57,212.22 200.09,211.72 200.62,211.23 201.14,210.74 201.66,210.25 202.19,209.76 202.71,209.27 203.24,208.78 203.76,208.29 204.29,207.80 204.82,207.32 205.35,206.84 205.88,206.35 206.41,205.87 206.94,205.39 207.48,204.91 208.01,204.44 208.55,203.96 209.09,203.49 209.63,203.02 210.17,202.54 210.71,202.07 211.25,201.61 211.80,201.14 212.34,200.67 212.89,200.21 213.44,199.74 213.98,199.28 214.53,198.81 215.08,198.35 215.63,197.89 216.18,197.43 216.73,196.97 217.28,196.51 217.83,196.05 218.39,195.59 218.94,195.13 219.49,194.68 220.05,194.22 220.60,193.76 221.15,193.30 221.71,192.85 222.26,192.39 222.82,191.93 223.37,191.48 223.93,191.02 224.48,190.56 225.03,190.10 225.59,189.65 226.14,189.19 226.70,188.73 227.25,188.27 227.80,187.81 228.35,187.35 228.91,186.89 229.46,186.43 230.01,185.97 230.56,185.51 231.11,185.05 231.66,184.58 232.21,184.12 232.76,183.65 233.30,183.19 233.85,182.72 234.40,182.25 234.94,181.78 235.48,181.31 236.03,180.84 236.57,180.37 237.11,179.89 237.65,179.42 238.19,178.94 238.72,178.46 239.26,177.98 239.80,177.50 240.33,177.02 240.86,176.54 241.40,176.05 241.93,175.57 242.46,175.08 242.99,174.60 243.52,174.11 244.05,173.62 244.58,173.13 245.11,172.65 245.64,172.16 246.17,171.67 246.70,171.18 247.23,170.69 247.75,170.20 248.28,169.71 248.81,169.22 249.34,168.73 249.86,168.24 250.39,167.75 250.92,167.26 251.45,166.77 251.97,166.28 252.50,165.79 253.03,165.30 253.56,164.81 254.09,164.32 254.62,163.83 255.15,163.35 255.68,162.86 256.21,162.37 256.74,161.89 257.27,161.40 257.80,160.92 258.34,160.44 258.87,159.96 259.41,159.48 259.94,159.00 260.48,158.52 261.02,158.04 261.55,157.56 262.09,157.09 262.63,156.61 263.17,156.14 263.71,155.67 264.25,155.19 264.80,154.72 265.34,154.25 265.88,153.78 266.43,153.31 266.97,152.84 267.52,152.38 268.06,151.91 268.61,151.45 269.16,150.98 269.71,150.52 270.26,150.06 270.81,149.59 271.36,149.13 271.91,148.67 272.46,148.21 273.01,147.75 273.56,147.30 274.12,146.84 274.67,146.38 275.23,145.93 275.78,145.47 276.34,145.02 276.90,144.57 277.45,144.12 278.01,143.66 278.57,143.21 279.13,142.76 279.69,142.32 280.25,141.87 280.81,141.42 281.37,140.97 281.94,140.53 282.50,140.08 283.06,139.64 283.63,139.19 284.19,138.75 284.76,138.31 285.33,137.87 285.89,137.43 286.46,136.99 287.03,136.55 287.60,136.11 288.17,135.67 288.74,135.24 289.31,134.80 289.88,134.36 290.45,133.93 291.02,133.50 291.59,133.06 292.17,132.63 292.74,132.20 293.31,131.77 293.89,131.34 294.47,130.91 295.04,130.48 295.62,130.05 296.19,129.62 296.77,129.19 297.35,128.77 297.93,128.34 298.51,127.92 299.09,127.49 299.67,127.07 300.25,126.64 300.83,126.22 301.41,125.80 302.00,125.38 302.58,124.96 303.16,124.54 303.75,124.12 304.33,123.70 304.92,123.28 305.50,122.86 306.09,122.44 306.67,122.03 307.26,121.61 307.85,121.20 308.44,120.78 309.02,120.37 309.61,119.95 310.20,119.54 310.79,119.13 311.38,118.71 311.97,118.30 312.56,117.89 313.16,117.48 313.75,117.07 314.34,116.66 314.93,116.26 315.53,115.85 316.12,115.44 316.72,115.03 317.31,114.63 317.91,114.22 318.51,113.82 319.10,113.42 319.70,113.02 320.30,112.61 320.90,112.21 321.50,111.81 322.10,111.41 322.70,111.02 323.30,110.62 323.90,110.22 324.50,109.83 325.10,109.43 325.71,109.04 326.31,108.64 326.91,108.25 327.52,107.86 328.13,107.47 328.73,107.08 329.34,106.70 329.95,106.31 330.55,105.92 331.16,105.54 331.77,105.16 332.38,104.77 332.99,104.39 333.60,104.01 334.22,103.63 334.83,103.25 335.44,102.88 336.06,102.50 336.67,102.13 337.29,101.75 337.90,101.38 338.52,101.01 339.14,100.64 339.76,100.27 340.37,99.91 340.99,99.54 341.61,99.18 342.24,98.81 342.86,98.45 343.48,98.09 344.10,97.73 344.73,97.38 345.35,97.02 345.98,96.67 346.60,96.31 347.23,95.96 347.86,95.61 348.49,95.26 349.12,94.92 349.75,94.57 350.38,94.23 351.01,93.88 351.64,93.54 352.28,93.20 352.91,92.86 353.54,92.53 354.18,92.19 354.82,91.86 355.45,91.53 356.09,91.20 356.73,90.87 357.37,90.54 358.01,90.22 358.65,89.90 359.30,89.58 359.94,89.26 360.58,88.94 361.23,88.62 361.87,88.31 362.52,88.00 363.17,87.69 363.82,87.38 364.47,87.07 365.12,86.77 365.77,86.46 366.42,86.16 367.07,85.86 367.72,85.56 368.38,85.27 369.03,84.97 369.69,84.68 370.35,84.39 371.00,84.10 371.66,83.81 372.32,83.52 372.98,83.24 373.64,82.96 374.30,82.68 374.97,82.40 375.63,82.12 376.29,81.84 376.96,81.57 377.62,81.30 378.29,81.02 378.95,80.76 379.62,80.49 380.29,80.22 380.96,79.96 381.62,79.69 382.29,79.43 382.96,79.17 383.64,78.91 384.31,78.66 384.98,78.40 385.65,78.15 386.33,77.90 387.00,77.64 387.68,77.40 388.35,77.15 389.03,76.90 389.70,76.66 390.38,76.41 391.06,76.17 391.74,75.93 392.42,75.69 393.10,75.46 393.78,75.22 394.46,74.99 395.14,74.75 395.82,74.52 396.50,74.29 397.18,74.06 397.87,73.84 398.55,73.61 399.23,73.39 399.92,73.16 400.60,72.94 401.29,72.72 401.98,72.50 402.66,72.29 403.35,72.07 404.04,71.85 404.73,71.64 405.41,71.43 406.10,71.22 406.79,71.01 407.48,70.80 408.17,70.59 408.86,70.39 409.55,70.18 410.24,69.98 410.94,69.78 411.63,69.58 412.32,69.38 413.01,69.18 413.71,68.99 414.40,68.79 415.09,68.60 415.79,68.40 416.48,68.21 417.18,68.02 417.87,67.83 418.57,67.64 419.26,67.46 419.96,67.27 420.65,67.08 421.35,66.90 422.05,66.72 422.74,66.54 423.44,66.36 424.14,66.18 424.84,66.00 425.53,65.82 426.23,65.65 426.93,65.47 427.63,65.30 428.33,65.13 429.03,64.96 429.73,64.79 430.42,64.62 431.12,64.45 431.82,64.28 432.52,64.12 433.22,63.95 433.92,63.79 434.62,63.62 435.33,63.46 436.03,63.30 436.73,63.14 437.43,62.98 438.13,62.82 438.83,62.67 439.53,62.51 440.23,62.36 440.94,62.20 441.64,62.05 442.34,61.90 443.04,61.75 443.75,61.60 444.45,61.45 445.15,61.30 445.86,61.16 446.56,61.01 447.26,60.86 447.97,60.72 448.67,60.58 449.37,60.44 450.08,60.29 450.78,60.15 451.49,60.02 452.19,59.88 452.90,59.74 453.60,59.60 454.31,59.47 455.01,59.33 455.72,59.20 456.42,59.07 457.13,58.94 457.83,58.80 458.54,58.67 459.25,58.55 459.95,58.42 460.66,58.29 461.37,58.16 462.07,58.04 462.78,57.91 463.49,57.79 464.19,57.67 464.90,57.55 465.61,57.43 466.32,57.30 467.02,57.19 467.73,57.07 468.44,56.95 469.15,56.83 469.86,56.72 470.56,56.60 471.27,56.49 471.98,56.37 472.69,56.26 473.40,56.15 474.11,56.04 474.82,55.93 475.53,55.82 476.24,55.71 476.95,55.60 477.66,55.50 478.37,55.39 479.08,55.29 479.79,55.18 480.50,55.08 481.21,54.98 481.92,54.87 482.63,54.77 483.34,54.67 484.05,54.57 484.76,54.47 485.47,54.37 486.18,54.28 486.90,54.18 487.61,54.08 488.32,53.99 489.03,53.89 489.74,53.80 490.45,53.71 491.17,53.62 491.88,53.52 492.59,53.43 493.30,53.34 494.02,53.25 494.73,53.17 495.44,53.08 496.15,52.99 496.87,52.90 497.58,52.82 498.29,52.73 499.01,52.65 499.72,52.57 500.43,52.48 501.15,52.40 501.86,52.32 502.57,52.24 503.29,52.16 504.00,52.08 504.72,52.00 505.43,51.92 506.14,51.84 506.86,51.77 507.57,51.69 508.29,51.61 509.00,51.54 509.72,51.46 510.43,51.39 511.15,51.32 511.86,51.24 512.58,51.17 513.29,51.10 514.01,51.03 514.72,50.96 515.44,50.89 516.15,50.82 516.87,50.75 517.59,50.68 518.30,50.62 519.02,50.55 519.73,50.48 520.45,50.42 521.17,50.35 521.88,50.29 522.60,50.23 523.31,50.16 524.03,50.10 524.75,50.04 525.46,49.98 526.18,49.92 526.90,49.86 527.61,49.80 528.33,49.74 529.05,49.68 529.76,49.62 530.48,49.56 531.20,49.50 531.92,49.45 532.63,49.39 533.35,49.34 534.07,49.28 534.78,49.23 535.50,49.17 536.22,49.12 536.94,49.07 537.66,49.01 538.37,48.96 539.09,48.91 539.81,48.86 540.53,48.81 541.24,48.76 541.96,48.71 542.68,48.66 543.40,48.61 544.12,48.56 544.84,48.51 545.55,48.46 546.27,48.42 546.99,48.37 547.71,48.32 548.43,48.28 549.15,48.23 549.86,48.19 550.58,48.14 551.30,48.10 552.02,48.06 552.74,48.01 553.46,47.97 554.18,47.93 554.90,47.88 555.61,47.84 556.33,47.80 557.05,47.76 557.77,47.72 558.49,47.68 559.21,47.64 559.93,47.60 560.65,47.56 561.37,47.52 562.09,47.48 562.81,47.45 563.52,47.41 564.24,47.37 564.96,47.33 565.68,47.30 566.40,47.26 567.12,47.22 567.84,47.19 568.56,47.15 569.28,47.12 570.00,47.08 570.72,47.05 571.44,47.01 572.16,46.98 572.88,46.95 573.60,46.91 574.32,46.88 575.04,46.85 575.76,46.82 576.48,46.78 577.20,46.75 577.92,46.72 578.64,46.69 579.36,46.66 580.08,46.63 580.80,46.60 581.51,46.57 582.23,46.54 582.95,46.51 583.67,46.48 584.39,46.45 585.11,46.42 585.83,46.39 586.55,46.36 587.27,46.33 587.99,46.31 588.71,46.28 589.43,46.25 590.15,46.22 590.87,46.20 591.59,46.17 592.31,46.14 593.03,46.12 593.75,46.09 594.47,46.06 595.19,46.04 595.91,46.01 596.63,45.98 597.35,45.96 598.07,45.93 598.79,45.91 599.51,45.88 600.23,45.86 600.95,45.83 601.67,45.81 602.39,45.78 603.11,45.76 603.83,45.74 604.55,45.71 605.27,45.69 605.99,45.66 606.71,45.64 607.43,45.62 608.15,45.59 608.87,45.57 609.59,45.55 610.31,45.52 611.03,45.50 611.74,45.48 612.46,45.45 613.18,45.43 613.90,45.41 614.62,45.39 615.34,45.36 616.06,45.34 616.78,45.32 617.50,45.30 618.22,45.27 618.94,45.25 619.66,45.23 620.38,45.21 621.10,45.19 621.81,45.16 622.53,45.14 623.25,45.12 623.97,45.10 624.69,45.08 625.41,45.05 626.13,45.03 626.85,45.01 627.57,44.99 628.28,44.97 629.00,44.95 629.72,44.92 630.44,44.90 631.16,44.88 631.88,44.86 632.60,44.84 633.31,44.81 634.03,44.79 634.75,44.77 635.47,44.75 636.19,44.73 636.90,44.70 637.62,44.68 638.34,44.66 639.06,44.64 639.78,44.62 640.49,44.59 641.21,44.57 641.93,44.55 642.65,44.53 643.37,44.50 644.08,44.48 644.80,44.46 645.52,44.44 646.23,44.41 646.95,44.39 647.67,44.37 648.39,44.34 649.10,44.32 649.82,44.30 650.54,44.27 651.25,44.25 651.97,44.23 652.69,44.20 653.40,44.18 654.12,44.15 654.84,44.13 655.55,44.11 656.27,44.08 656.99,44.06 657.70,44.03 658.42,44.01 659.14,43.98 659.85,43.96 660.57,43.93 661.28,43.91 662.00,43.88 662.71,43.85 663.43,43.83 664.15,43.80 664.86,43.78 665.58,43.75 666.29,43.72 667.01,43.70 667.72,43.67 668.44,43.64 669.15,43.61 669.87,43.58 670.58,43.56 671.30,43.53 672.01,43.50 672.72,43.47 673.44,43.44"/>
<path fill="none" stroke="#000" stroke-width="1" d="M68 5.5H673.5V379.5H68ZM68.00 5.5v5M68.00 379.5v-5M77.61 5.5v5M77.61 379.5v-5M87.22 5.5v5M87.22 379.5v-5M96.83 5.5v10M96.83 379.5v-10M106.44 5.5v5M106.44 379.5v-5M116.05 5.5v5M116.05 379.5v-5M125.66 5.5v5M125.66 379.5v-5M135.27 5.5v5M135.27 379.5v-5M144.88 5.5v10M144.88 379.5v-10M154.50 5.5v5M154.50 379.5v-5M164.11 5.5v5M164.11 379.5v-5M173.72 5.5v5M173.72 379.5v-5M183.33 5.5v5M183.33 379.5v-5M192.94 5.5v10M192.94 379.5v-10M202.55 5.5v5M202.55 379.5v-5M212.16 5.5v5M212.16 379.5v-5M221.77 5.5v5M221.77 379.5v-5M231.38 5.5v5M231.38 379.5v-5M241.00 5.5v10M241.00 379.5v-10M250.61 5.5v5M250.61 379.5v-5M260.22 5.5v5M260.22 379.5v-5M269.83 5.5v5M269.83 379.5v-5M279.44 5.5v5M279.44 379.5v-5M289.05 5.5v10M289.05 379.5v-10M298.66 5.5v5M298.66 379.5v-5M308.27 5.5v5M308.27 379.5v-5M317.88 5.5v5M317.88 379.5v-5M327.49 5.5v5M327.49 379.5v-5M337.11 5.5v10M337.11 379.5v-10M346.72 5.5v5M346.72 379.5v-5M356.33 5.5v5M356.33 379.5v-5M365.94 5.5v5M365.94 379.5v-5M375.55 5.5v5M375.55 379.5v-5M385.16 5.5v10M385.16 379.5v-10M394.77 5.5v5M394.77 379.5v-5M404.38 5.5v5M404.38 379.5v-5M413.99 5.5v5M413.99 379.5v-5M423.60 5.5v5M423.60 379.5v-5M433.21 5.5v10M433.21 379.5v-10M442.83 5.5v5M442.83 379.5v-5M452.44 5.5v5M452.44 379.5v-5M462.05 5.5v5M462.05 379.5v-5M471.66 5.5v5M471.66 379.5v-5M481.27 5.5v10M481.27 379.5v-10M490.88 5.5v5M490.88 379.5v-5M500.49 5.5v5M500.49 379.5v-5M510.10 5.5v5M510.10 379.5v-5M519.71 5.5v5M519.71 379.5v-5M529.33 5.5v10M529.33 379.5v-10M538.94 5.5v5M538.94 379.5v-5M548.55 5.5v5M548.55 379.5v-5M558.16 5.5v5M558.16 379.5v-5M567.77 5.5v5M567.77 379.5v-5M577.38 5.5v10M577.38 379.5v-10M586.99 5.5v5M586.99 379.5v-5M596.60 5.5v5M596.60 379.5v-5M606.21 5.5v5M606.21 379.5v-5M615.82 5.5v5M615.82 379.5v-5M625.44 5.5v10M625.44 379.5v-10M635.05 5.5v5M635.05 379.5v-5M644.66 5.5v5M644.66 379.5v-5M654.27 5.5v5M654.27 379.5v-5M663.88 5.5v5M663.88 379.5v-5M673.49 5.5v10M673.49 379.5v-10M68 379.50h10M673.5 379.50h-10M68 372.70h5M673.5 372.70h-5M68 365.90h5M673.5 365.90h-5M68 359.10h5M673.5 359.10h-5M68 352.30h5M673.5 352.30h-5M68 345.50h10M673.5 345.50h-10M68 338.70h5M673.5 338.70h-5M68 331.90h5M673.5 331.90h-5M68 325.10h5M673.5 325.10h-5M68 318.30h5M673.5 318.30h-5M68 311.50h10M673.5 311.50h-10M68 304.70h5M673.5 304.70h-5M68 297.90h5M673.5 297.90h-5M68 291.10h5M673.5 291.10h-5M68 284.30h5M673.5 284.30h-5M68 277.50h10M673.5 277.50h-10M68 270.70h5M673.5 270.70h-5M68 263.90h5M673.5 263.90h-5M68 257.10h5M673.5 257.10h-5M68 250.30h5M673.5 250.30h-5M68 243.50h10M673.5 243.50h-10M68 236.70h5M673.5 236.70h-5M68 229.90h5M673.5 229.90h-5M68 223.10h5M673.5 223.10h-5M68 216.30h5M673.5 216.30h-5M68 209.50h10M673.5 209.50h-10M68 202.70h5M673.5 202.70h-5M68 195.90h5M673.5 195.90h-5M68 189.10h5M673.5 189.10h-5M68 182.30h5M673.5 182.30h-5M68 175.50h10M673.5 175.50h-10M68 168.70h5M673.5 168.70h-5M68 161.90h5M673.5 161.90h-5M68 155.10h5M673.5 155.10h-5M68 148.30h5M673.5 148.30h-5M68 141.50h10M673.5 141.50h-10M68 134.70h5M673.5 134.70h-5M68 127.90h5M673.5 127.90h-5M68 121.10h5M673.5 121.10h-5M68 114.30h5M673.5 114.30h-5M68 107.50h10M673.5 107.50h-10M68 100.70h5M673.5 100.70h-5M68 93.90h5M673.5 93.90h-5M68 87.10h5M673.5 87.10h-5M68 80.30h5M673.5 80.30h-5M68 73.50h10M673.5 73.50h-10M68 66.70h5M673.5 66.70h-5M68 59.90h5M673.5 59.90h-5M68 53.10h5M673.5 53.10h-5M68 46.30h5M673.5 46.30h-5M68 39.50h10M673.5 39.50h-10M68 32.70h5M673.5 32.70h-5M68 25.90h5M673.5 25.90h-5M68 19.10h5M673.5 19.10h-5M68 12.30h5M673.5 12.30h-5M68 5.50h10M673.5 5.50h-10"/>
<g font-family="Liberation Sans, sans-serif" font-size="14.67" fill="#000">
<g text-anchor="middle"><text x="99.03" y="403.3">0.0</text><text x="147.08" y="403.3">0.5</text><text x="195.14" y="403.3">1.0</text><text x="243.19" y="403.3">1.5</text><text x="291.25" y="403.3">2.0</text><text x="339.31" y="403.3">2.5</text><text x="387.36" y="403.3">3.0</text><text x="435.41" y="403.3">3.5</text><text x="483.47" y="403.3">4.0</text><text x="531.53" y="403.3">4.5</text><text x="579.58" y="403.3">5.0</text><text x="627.64" y="403.3">5.5</text><text x="675.69" y="403.3">6.0</text></g>
<g text-anchor="end"><text x="56" y="383.70">−0.2</text><text x="56" y="349.70">−0.1</text><text x="56" y="315.70">0.0</text><text x="56" y="281.70">0.1</text><text x="56" y="247.70">0.2</text><text x="56" y="213.70">0.3</text><text x="56" y="179.70">0.4</text><text x="56" y="145.70">0.5</text><text x="56" y="111.70">0.6</text><text x="56" y="77.70">0.7</text><text x="56" y="43.70">0.8</text><text x="56" y="9.70">0.9</text></g>
<text x="352.7" y="421.5">Log</text>
<use href="#tau" x="381.3" y="421.5"/>
<g transform="translate(10.8,233.6) rotate(-90)">
<text x="0" y="0">Index [C<tspan x="54.7" y="2.3" font-size="10">P</tspan><tspan x="62.0" y="0" font-family="Liberation Serif, serif">(</tspan><tspan x="73.4" font-family="Liberation Serif, serif">)</tspan><tspan x="78.4">]</tspan></text>
<use href="#tau" x="67.0" y="0"/>
</g>
<text x="339.5" y="248.35" textLength="282.4" lengthAdjust="spacing">Index functions of the isobaric heat capacity</text>
<text y="275.7"><tspan x="339.1">C</tspan><tspan x="349.2" y="278.6" font-size="10.5">P</tspan><tspan x="357.6" y="275.7" font-family="Liberation Serif, serif">(</tspan><tspan x="368.3" font-family="Liberation Serif, serif">)</tspan><tspan x="373.0">,</tspan><tspan x="392.1">= 1/|T / T</tspan><tspan x="452.0" y="278.3" font-size="10">c</tspan><tspan x="457.8" y="275.7">−</tspan><tspan x="467.6">1|, of water</tspan></text>
<use href="#tau" x="361.8" y="275.7"/>
<use href="#tau" x="381.3" y="275.7"/>
</g>
<g font-family="Liberation Sans, sans-serif" font-size="12" fill="#000">
<text x="484.4" y="37.8">1 − 1 / <tspan font-family="Liberation Serif, serif" font-style="italic">δ</tspan><tspan dx="0.8"> = 0.7912</tspan></text>
<text x="109.5" y="78.2">T<tspan font-size="9" dy="2.8">melt</tspan><tspan dy="-2.8"> = 273.16 K</tspan></text>
<text x="80.0" y="105.5">1273 K</text>
<text x="214.6" y="91.6" word-spacing="0.6">T &gt; T<tspan font-size="9" dy="2.5">c</tspan></text>
<text x="291.8" y="153" word-spacing="0.6">T &lt; T<tspan font-size="9" dy="2.5">c</tspan></text>
</g>
</svg>
</body></html>
